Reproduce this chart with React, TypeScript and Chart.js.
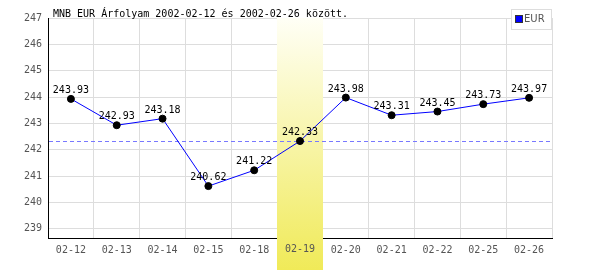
import React, { useEffect, useRef } from "react";
import { Chart, registerables } from "chart.js";

Chart.register(...registerables);

const categories = ["02-12", "02-13", "02-14", "02-15", "02-18", "02-19", "02-20", "02-21", "02-22", "02-25", "02-26"];
const eurValues = [243.93, 242.93, 243.18, 240.62, 241.22, 242.33, 243.98, 243.31, 243.45, 243.73, 243.97];
const highlightIndex = 5;
const referenceValue = 242.33;
const titleText = "MNB EUR Árfolyam 2002-02-12 és 2002-02-26 között.";
const seriesName = "EUR";
const yMin = 238.65;
const yMax = 247;

const MONO = "'DejaVu Sans Mono', monospace";

export default function App() {
  const ref = useRef<HTMLCanvasElement | null>(null);
  useEffect(() => {
    document.body.style.margin = "0";
    const canvas = ref.current!;
    const extras = {
      id: "extras",
      beforeDatasetsDraw(chart: any) {
        const ctx = chart.ctx;
        const x = chart.scales.x;
        const y = chart.scales.y;
        const area = chart.chartArea;
        const half = (x.getPixelForValue(1) - x.getPixelForValue(0)) / 2;
        const cx = x.getPixelForValue(highlightIndex);
        const g = ctx.createLinearGradient(0, area.top, 0, chart.height);
        g.addColorStop(0, "#fffff6");
        g.addColorStop(1, "#f0ea58");
        ctx.save();
        ctx.fillStyle = g;
        ctx.fillRect(Math.round(cx - half), area.top, Math.round(2 * half), chart.height - area.top);
        // redraw highlighted x label over the band
        ctx.font = "10px " + MONO;
        ctx.fillStyle = "#555";
        ctx.textAlign = "center";
        ctx.textBaseline = "top";
        ctx.fillText(categories[highlightIndex], cx, area.bottom + 6);
        // dashed reference line, drawn as pixel segments
        const ry = Math.round(y.getPixelForValue(referenceValue));
        ctx.fillStyle = "#7878ff";
        for (let px = Math.round(area.left) + 1; px < area.right; px += 7) {
          ctx.fillRect(px, ry, Math.min(4, area.right - px), 1);
        }
        ctx.restore();
      },
      afterDatasetsDraw(chart: any) {
        const ctx = chart.ctx;
        const meta = chart.getDatasetMeta(0);
        ctx.save();
        ctx.font = "10px " + MONO;
        ctx.fillStyle = "#000";
        ctx.textAlign = "center";
        ctx.textBaseline = "alphabetic";
        meta.data.forEach((pt: any, i: number) => {
          ctx.fillText(eurValues[i].toFixed(2), pt.x, pt.y - 6);
        });
        // title
        ctx.textAlign = "left";
        ctx.fillText(titleText, 53, 17);
        // legend
        ctx.strokeStyle = "#dddddd";
        ctx.lineWidth = 1;
        ctx.fillStyle = "#ffffff";
        ctx.fillRect(511.5, 9.5, 40, 20);
        ctx.strokeRect(511.5, 9.5, 40, 20);
        ctx.fillStyle = "#0000ff";
        ctx.fillRect(516, 16, 6, 6);
        ctx.strokeStyle = "#333";
        ctx.strokeRect(515.5, 15.5, 7, 7);
        ctx.fillStyle = "#555";
        ctx.font = "10px 'DejaVu Sans', sans-serif";
        ctx.textBaseline = "middle";
        ctx.fillText(seriesName, 524, 19.5);
        ctx.restore();
      },
    };
    const chart = new Chart(canvas, {
      type: "line",
      data: {
        labels: categories,
        datasets: [
          {
            label: seriesName,
            data: eurValues,
            borderColor: "#0000ff",
            borderWidth: 1,
            pointBackgroundColor: "#000",
            pointBorderColor: "#000",
            pointRadius: 3.5,
            tension: 0,
          },
        ],
      },
      options: {
        animation: false,
        responsive: false,
        events: [],
        layout: { padding: { top: 18, right: 48, left: 0, bottom: 0 } },
        plugins: { legend: { display: false }, tooltip: { enabled: false }, title: { display: false } },
        scales: {
          x: {
            type: "category",
            offset: true,
            grid: { offset: true, color: "#dddddd", drawTicks: false },
            border: { color: "#000", width: 1 },
            ticks: { color: "#555", font: { family: MONO, size: 10 }, padding: 6, maxRotation: 0 },
            afterFit(s: any) { s.height = 32; },
          },
          y: {
            type: "linear",
            min: yMin,
            max: yMax,
            grid: { color: "#dddddd", drawTicks: false },
            border: { color: "#000", width: 1 },
            ticks: { stepSize: 1, includeBounds: false, color: "#555", font: { family: MONO, size: 10 }, padding: 6 },
            afterFit(s: any) { s.width = 48; },
          },
        },
      },
      plugins: [extras],
    } as any);
    return () => chart.destroy();
  }, []);
  return (
    <div style={{ width: 600, height: 270 }}>
      <canvas ref={ref} width={600} height={270} style={{ display: "block" }} />
    </div>
  );
}
